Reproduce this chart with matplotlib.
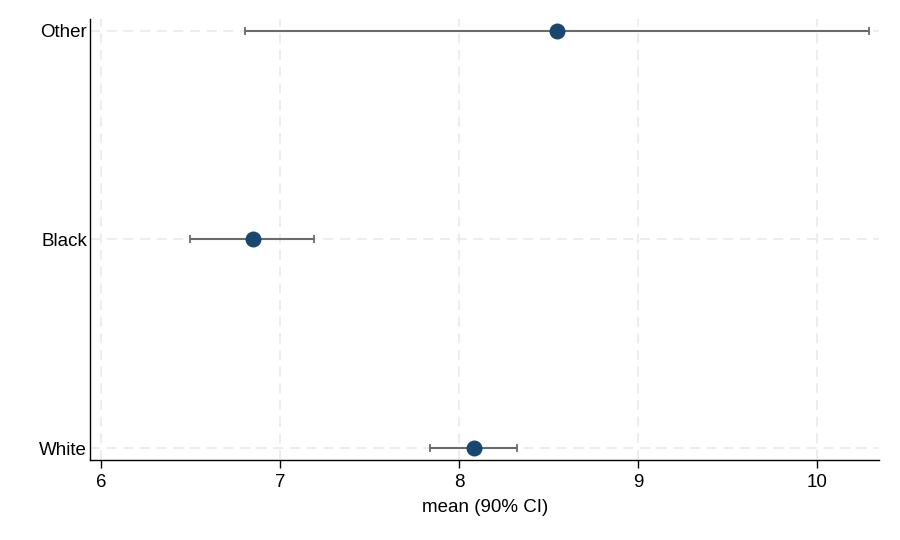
import numpy as np
import matplotlib
matplotlib.use('Agg')
import matplotlib.pyplot as plt

plt.rcParams['font.family'] = ['Liberation Sans', 'DejaVu Sans']

groups = ['White', 'Black', 'Other']
means = [8.085, 6.85, 8.55]
ci_lo = [7.84, 6.50, 6.805]
ci_hi = [8.325, 7.19, 10.29]
xticks = [6, 7, 8, 9, 10]

means = np.array(means)
err = np.array([means - np.array(ci_lo), np.array(ci_hi) - means])
ypos = np.arange(len(groups))

fig = plt.figure(figsize=(9, 5.4), dpi=100)
ax = fig.add_axes([0.1, 0.148, 0.877, 0.817])

ax.errorbar(means, ypos, xerr=err, fmt='none', ecolor='#6a6a6a',
            elinewidth=1.5, capsize=2.8, capthick=1.3, zorder=3)
ax.scatter(means, ypos, s=110, color='#1a476f', zorder=4)

ax.set_xlim(5.9385, 10.349)
ax.set_ylim(-0.0576, 2.0576)
ax.set_xticks(xticks)
ax.set_yticks(ypos)
ax.set_yticklabels(groups)
ax.grid(True, color='#eaeaea', linestyle=(0, (6, 4)), linewidth=1.2, zorder=0)
ax.set_axisbelow(True)

for s in ['top', 'right']:
    ax.spines[s].set_visible(False)
ax.spines['left'].set_linewidth(1.0)
ax.spines['bottom'].set_linewidth(1.0)
ax.tick_params(axis='y', length=0, labelsize=13.5, pad=2)
ax.tick_params(axis='x', length=6, width=1, labelsize=13.5, pad=4)
ax.set_xlabel('mean (90% CI)', fontsize=13.5, labelpad=6)

fig.savefig('out.png', dpi=100)
